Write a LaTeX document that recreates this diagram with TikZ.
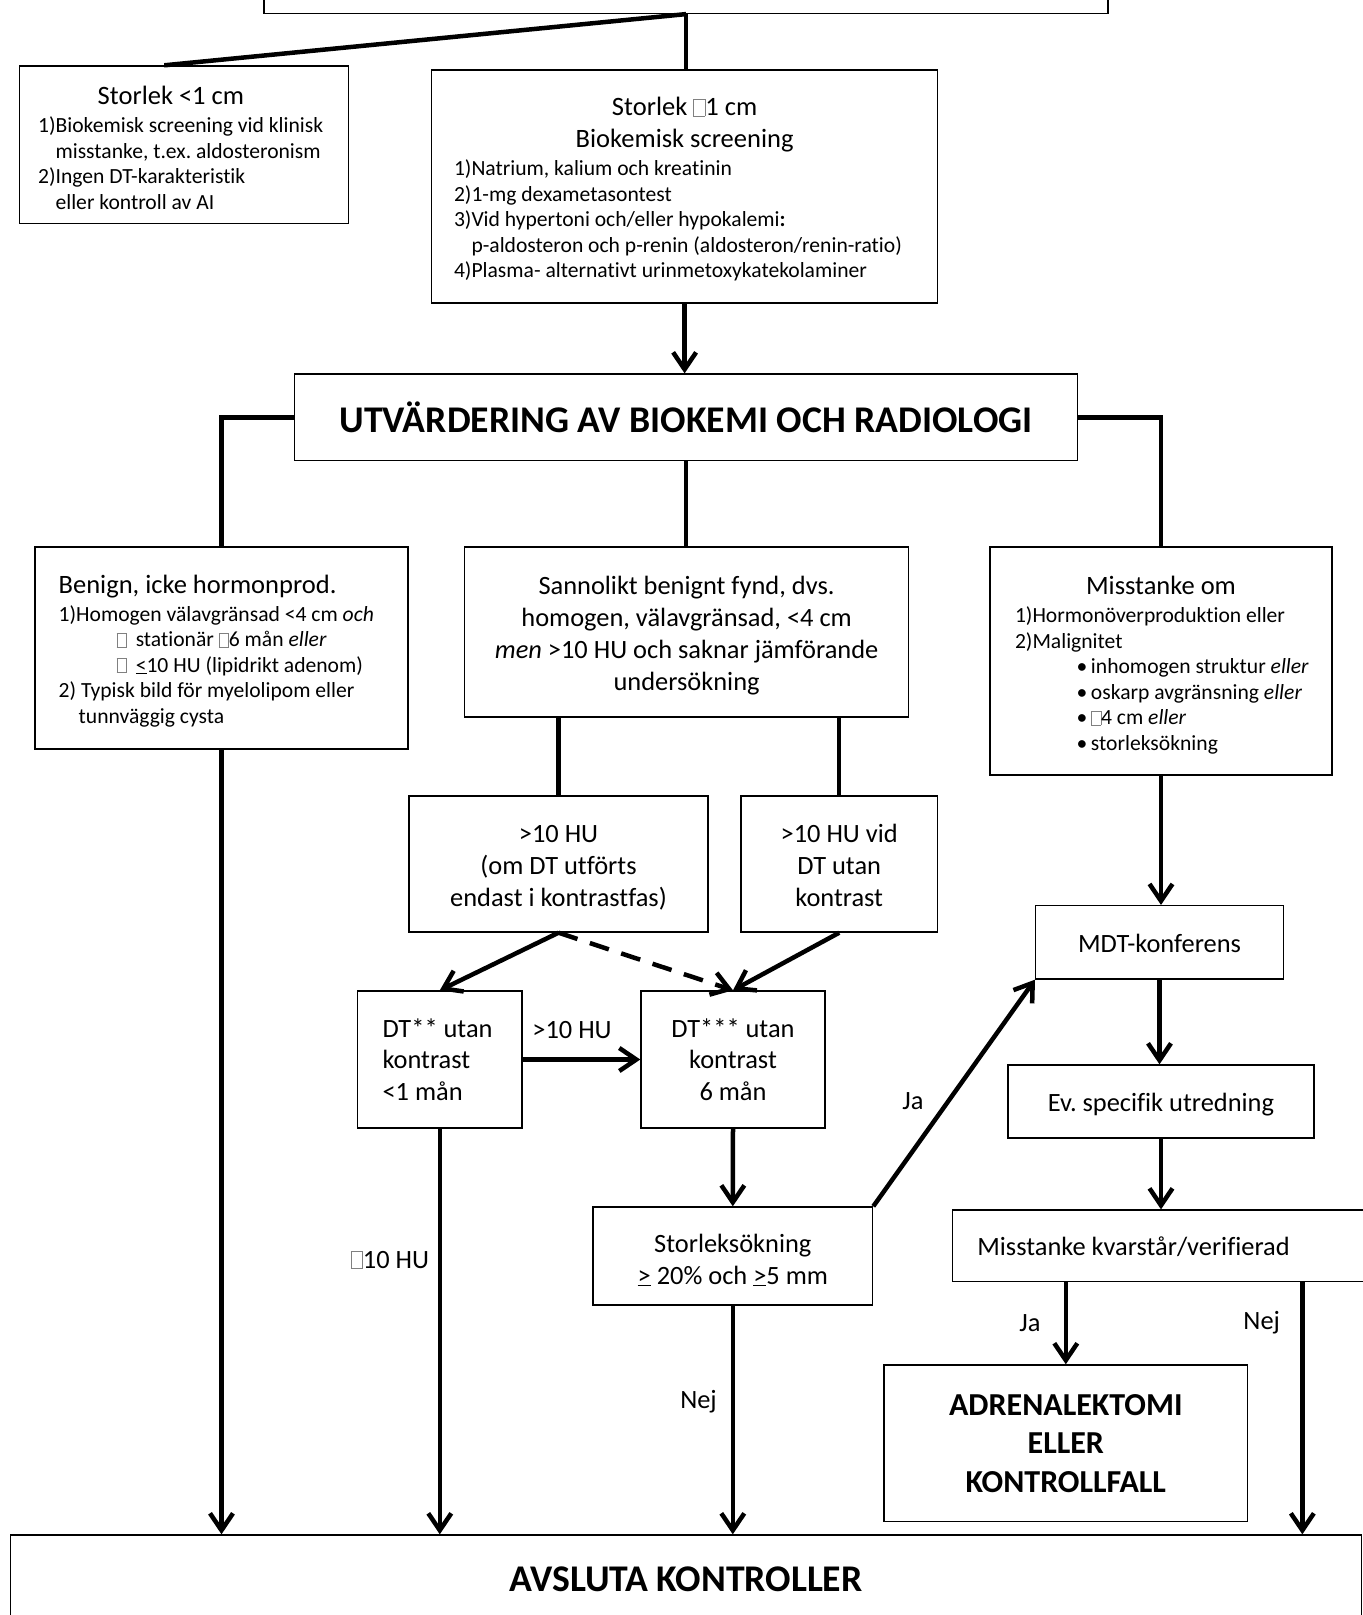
\documentclass[tikz,border=0pt]{standalone}
\usepackage{fontspec}
\setmainfont{Carlito}[Ligatures=NoCommon]
\usetikzlibrary{arrows.meta,calc}
\newcommand\nog{{\color{gray}\fboxsep=0pt\fboxrule=0.5pt\fbox{\rule{0pt}{0.62em}\hspace{0.42em}}}}
\newcommand\boxtitle{\fontsize{26.5}{32}\selectfont}
\newcommand\tb[3]{\raisebox{-#1}[\height][\depth]{\parbox{#2}{#3}}}
\newcommand\bul{\makebox[14.3pt][l]{•}}
\frenchspacing
\begin{document}
\begin{tikzpicture}[x=1pt,y=-1pt,
 box/.style={draw, line width=1.4pt, inner sep=0pt, fill=white},
 small/.style={font=\fontsize{21.6}{25.5}\selectfont},
 med/.style={font=\fontsize{26.4}{31.7}\selectfont},
 big/.style={font=\fontsize{37.7}{45}\selectfont\bfseries},
 conn/.style={line width=4.5pt},
 arr/.style={conn,-{Straight Barb[length=17pt,width=23pt]}},
 lbl/.style={med, inner sep=0pt}]
\useasboundingbox (0,0) rectangle (1363,1615);
\clip (0,0) rectangle (1363,1615);

% boxes
\node[box, minimum width=844pt, minimum height=60pt] (top) at (686,-16.6) {};

\node[box, small, minimum width=328.6pt, minimum height=157.6pt] (S1) at (183.9,144.8)
 {\tb{4pt}{291.6pt}{\raggedright
  \makebox[\linewidth][c]{\boxtitle Storlek <1 cm\hspace*{26pt}}\\[3pt]
  1)Biokemisk screening vid klinisk\\
  \phantom{1)}misstanke, t.ex. aldosteronism\\
  2)Ingen DT-karakteristik\\
  \phantom{2)}eller kontroll av AI}};

\node[box, small, minimum width=505.8pt, minimum height=233pt] (S2) at (684.6,186.5)
 {\tb{3pt}{461.2pt}{\raggedright
  \makebox[\linewidth][c]{\boxtitle Storlek \nog1 cm}\\[6pt]
  \makebox[\linewidth][c]{\boxtitle Biokemisk screening}\\[3pt]
  1)Natrium, kalium och kreatinin\\
  2)1-mg dexametasontest\\
  3)Vid hypertoni och/eller hypokalemi\textbf{:}\\
  \phantom{3)}p-aldosteron och p-renin (aldosteron/renin-ratio)\\
  4)Plasma- alternativt urinmetoxykatekolaminer}};

\node[box, big, minimum width=783pt, minimum height=86.5pt] (UTV) at (686.1,417.3)
 {UTVÄRDERING AV BIOKEMI OCH RADIOLOGI};

\node[box, small, minimum width=373pt, minimum height=202pt] (BN) at (221.5,648)
 {\tb{3pt}{325.6pt}{\raggedright
  {\boxtitle Benign, icke hormonprod.}\\[2pt]
  1)Homogen välavgränsad <4 cm \emph{och}\\
  \hspace*{58pt}\nog\hspace{9pt}stationär \nog6 mån \emph{eller}\\
  \hspace*{58pt}\nog\hspace{9pt}\underline{<}10 HU (lipidrikt adenom)\\
  2) Typisk bild för myelolipom eller\\
  \hspace*{20pt}tunnväggig cysta}};

\node[box, med, minimum width=444pt, minimum height=170pt] (SB) at (686.6,632)
 {\tb{3.6pt}{444pt}{\centering
  Sannolikt benignt fynd, dvs.\\
  homogen, välavgränsad, <4 cm\\
  \emph{men} >10 HU och saknar jämförande\\
  undersökning}};

\node[box, small, minimum width=342pt, minimum height=228pt] (MO) at (1161,661)
 {\tb{4pt}{300pt}{\raggedright
  \makebox[\linewidth][c]{\boxtitle Misstanke om}\\[3pt]
  \hspace*{4pt}1)Hormonöverproduktion eller\\
  \hspace*{4pt}2)Malignitet\\
  \hspace*{65.7pt}\bul inhomogen struktur \emph{eller}\\
  \hspace*{65.7pt}\bul oskarp avgränsning \emph{eller}\\
  \hspace*{65.7pt}\bul\nog4 cm \emph{eller}\\
  \hspace*{65.7pt}\bul storleksökning}};

\node[box, med, minimum width=299pt, minimum height=136pt] (H1) at (558.5,864)
 {\tb{3.6pt}{299pt}{\centering >10 HU\\(om DT utförts\\endast i kontrastfas)}};
\node[box, med, minimum width=196.5pt, minimum height=136pt] (H2) at (839.2,864)
 {\tb{1.5pt}{196.5pt}{\centering >10 HU vid\\DT utan\\kontrast}};

\node[box, med, minimum width=164.5pt, minimum height=137pt] (DT2) at (439.8,1059.5)
 {\tb{0pt}{114.5pt}{\raggedright DT** utan\\kontrast\\<1 mån}};
\node[box, med, minimum width=184pt, minimum height=137pt] (DT3) at (733,1059.5)
 {\tb{0pt}{184pt}{\centering DT*** utan\\kontrast\\6 mån}};

\node[box, med, minimum width=279.6pt, minimum height=98pt] (ST) at (732.8,1256)
 {\tb{4pt}{279.6pt}{\centering Storleksökning\\\underline{>} 20\% och \underline{>}5 mm}};

\node[box, med, minimum width=247.6pt, minimum height=73.3pt] (MDT) at (1159.5,942.3)
 {\tb{1pt}{247.6pt}{\centering MDT-konferens}};
\node[box, med, minimum width=306pt, minimum height=73pt] (Ev) at (1161,1101.5)
 {\tb{3pt}{306pt}{\centering Ev. specifik utredning}};
\node[box, med, minimum width=413.7pt, minimum height=71.7pt] (MK) at (1159.2,1245.9)
 {\tb{1pt}{363.7pt}{\raggedright Misstanke kvarstår/verifierad}};

\node[box, font=\fontsize{32}{38.5}\selectfont\bfseries, minimum width=363.7pt, minimum height=156.7pt] (AD) at (1065.8,1443.3)
 {\tb{0pt}{363.7pt}{\centering ADRENALEKTOMI\\ELLER\\KONTROLLFALL}};

\node[box, big, minimum width=1351.2pt, minimum height=88pt] (AV) at (685.9,1579) {AVSLUTA KONTROLLER};

% connectors
\path (S1.north west) ++(145.4,0) coordinate (s1t);
\draw[conn] (top.south) -- (s1t);
\draw[conn] (top.south) -- (top.south |- S2.north);
\draw[arr] (S2.south) -- (S2.south |- UTV.north);
\draw[conn] (UTV.west) -| (BN.north);
\draw[conn] (UTV.south) -- (UTV.south |- SB.north);
\draw[conn] (UTV.east) -| (MO.north);
\draw[arr] (BN.south) -- (BN.south |- AV.north);
\draw[conn] (H1.north |- SB.south) -- (H1.north);
\draw[conn] (H2.north |- SB.south) -- (H2.north);
\draw[arr] (H1.south) -- (DT2.north);
\draw[arr, dash pattern=on 20pt off 13pt] (H1.south) -- (DT3.north);
\draw[arr] (H2.south) -- (DT3.north);
\draw[arr] (DT2.east) -- (DT3.west);
\draw[arr] (DT2.south) -- (DT2.south |- AV.north);
\draw[arr] (DT3.south) -- (ST.north);
\draw[arr] (ST.south) -- (ST.south |- AV.north);
\draw[arr] (ST.north east) -- (MDT.south west);
\draw[arr] (MO.south) -- (MO.south |- MDT.north);
\draw[arr] (MDT.south) -- (MDT.south |- Ev.north);
\draw[arr] (Ev.south) -- (Ev.south |- MK.north);
\draw[arr] (AD.north |- MK.south) -- (AD.north);
\path (MK.south west) ++(350.7,0) coordinate (mkn);
\draw[arr] (mkn) -- (mkn |- AV.north);

% labels
\node[lbl] (lgt) at (572,1030) {>10 HU};
\node[lbl] (lle) at (390,1260) {\nog10 HU};
\node[lbl] (ln1) at (698.5,1402) {Nej};
\node[lbl] (lj1) at (913,1101) {Ja};
\node[lbl] (lj2) at (1030,1323) {Ja};
\node[lbl] (ln2) at (1261.7,1323) {Nej};
\end{tikzpicture}
\end{document}
